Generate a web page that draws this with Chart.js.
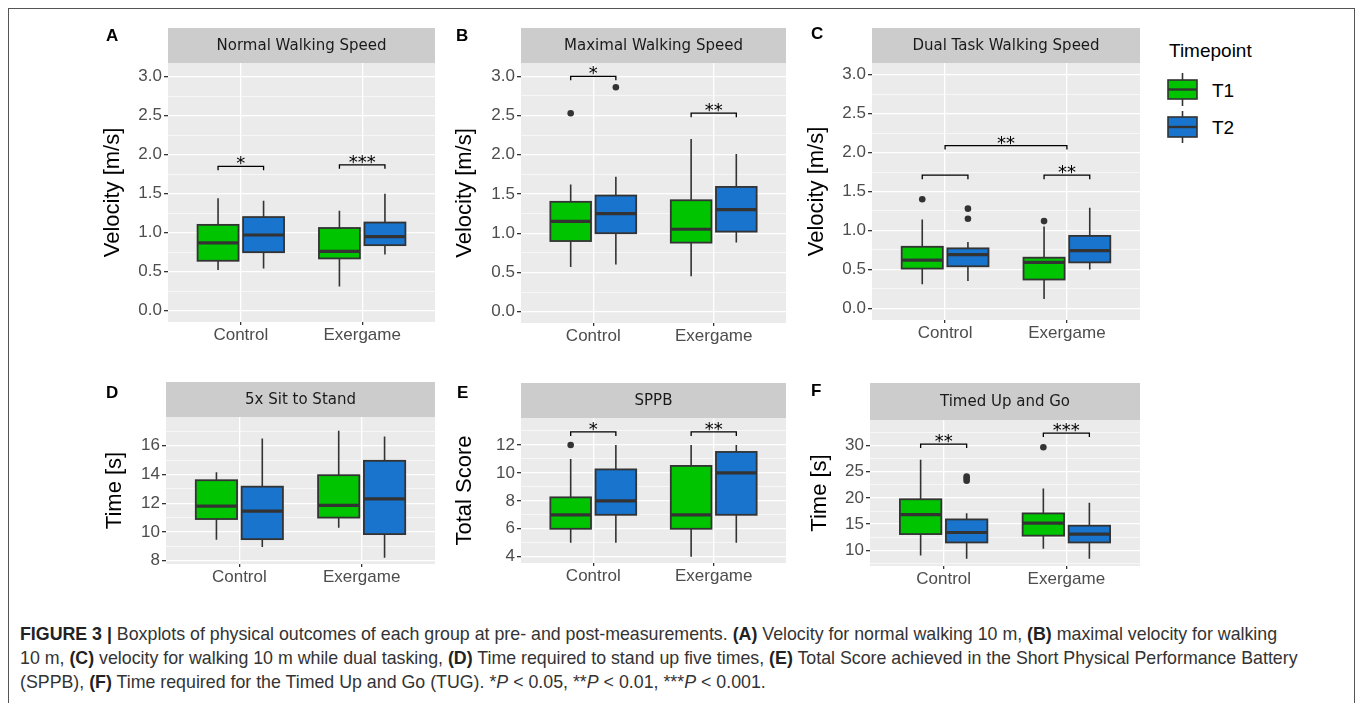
<!DOCTYPE html>
<html>
<head>
<meta charset="utf-8">
<title>Figure 3 - physical outcomes</title>
<script src="https://cdn.jsdelivr.net/npm/chart.js@4.4.1/dist/chart.umd.min.js"></script>
<style>
  html, body { margin: 0; padding: 0; background: #fff; }
  body { width: 1357px; height: 703px; position: relative; overflow: hidden; font-family: "Liberation Sans", Arial, sans-serif; }
  .frame { position: absolute; left: 8px; top: 8px; width: 1347px; height: 760px; border: 1px solid #555; box-sizing: border-box; }
  canvas.panel { position: absolute; }
  .tag { position: absolute; font: bold 17px "Liberation Sans", Arial, sans-serif; color: #000; line-height: 1; }
  #legend { position: absolute; left: 1160px; top: 36px; }
  #caption { position: absolute; left: 20px; top: 622px; font-size: 17.8px; line-height: 24px; color: #333; white-space: nowrap; }
  #caption b { color: #222; }
</style>
</head>
<body>
<div class="frame"></div>

<canvas id="panelA" class="panel"></canvas>
<canvas id="panelB" class="panel"></canvas>
<canvas id="panelC" class="panel"></canvas>
<canvas id="panelD" class="panel"></canvas>
<canvas id="panelE" class="panel"></canvas>
<canvas id="panelF" class="panel"></canvas>

<div class="tag" style="left:106px; top:27px;">A</div>
<div class="tag" style="left:456px; top:27px;">B</div>
<div class="tag" style="left:811px; top:25px;">C</div>
<div class="tag" style="left:106px; top:384px;">D</div>
<div class="tag" style="left:457px; top:384px;">E</div>
<div class="tag" style="left:811px; top:382px;">F</div>

<svg id="legend" width="110" height="120">
  <text x="9" y="21" font-family="Liberation Sans, Arial, sans-serif" font-size="19" fill="#000">Timepoint</text>
  <g stroke="#333" stroke-width="1.6">
    <line x1="22.5" y1="37" x2="22.5" y2="70"/>
    <rect x="8" y="44" width="29" height="19" fill="#00C400"/>
    <line x1="8" y1="53.5" x2="37" y2="53.5" stroke-width="2.4"/>
    <line x1="22.5" y1="75" x2="22.5" y2="107"/>
    <rect x="8" y="81" width="29" height="20" fill="#1874CD"/>
    <line x1="8" y1="91" x2="37" y2="91" stroke-width="2.4"/>
  </g>
  <text x="52" y="61" font-family="Liberation Sans, Arial, sans-serif" font-size="19" fill="#000">T1</text>
  <text x="52" y="98" font-family="Liberation Sans, Arial, sans-serif" font-size="19" fill="#000">T2</text>
</svg>

<div id="caption"><b>FIGURE 3 |</b> Boxplots of physical outcomes of each group at pre- and post-measurements. <b>(A)</b> Velocity for normal walking 10 m, <b>(B)</b> maximal velocity for walking<br>10 m, <b>(C)</b> velocity for walking 10 m while dual tasking, <b>(D)</b> Time required to stand up five times, <b>(E)</b> Total Score achieved in the Short Physical Performance Battery<br>(SPPB), <b>(F)</b> Time required for the Timed Up and Go (TUG). *<i>P</i> &lt; 0.05, **<i>P</i> &lt; 0.01, ***<i>P</i> &lt; 0.001.</div>

<script>
// ---- data ----
const groups = ['Control', 'Exergame'];
const timepoints = ['T1', 'T2'];

// each entry: [lower whisker, q1, median, q3, upper whisker], one per group
const normalT1 = [[0.52, 0.64, 0.87, 1.10, 1.44], [0.31, 0.67, 0.76, 1.06, 1.28]];
const normalT2 = [[0.54, 0.75, 0.97, 1.20, 1.41], [0.72, 0.84, 0.95, 1.13, 1.50]];
const normalOutT1 = [[], []];
const normalOutT2 = [[], []];
const normalSig = [['Control:T1', 'Control:T2', 1.85, '*'], ['Exergame:T1', 'Exergame:T2', 1.87, '***']];
const normalTicks = [0, 0.5, 1, 1.5, 2, 2.5, 3];

const maximalT1 = [[0.57, 0.90, 1.15, 1.40, 1.62], [0.45, 0.88, 1.05, 1.42, 2.20]];
const maximalT2 = [[0.60, 1.00, 1.25, 1.48, 1.72], [0.88, 1.02, 1.30, 1.59, 2.01]];
const maximalOutT1 = [[2.53], []];
const maximalOutT2 = [[2.86], []];
const maximalSig = [['Control:T1', 'Control:T2', 3.00, '*'], ['Exergame:T1', 'Exergame:T2', 2.53, '**']];
const maximalTicks = [0, 0.5, 1, 1.5, 2, 2.5, 3];

const dualT1 = [[0.31, 0.51, 0.62, 0.79, 1.14], [0.12, 0.37, 0.59, 0.65, 1.05]];
const dualT2 = [[0.35, 0.54, 0.69, 0.77, 0.85], [0.50, 0.59, 0.74, 0.93, 1.29]];
const dualOutT1 = [[1.40], [1.12]];
const dualOutT2 = [[1.15, 1.28], []];
const dualSig = [['Control:T1', 'Control:T2', 1.71, ''], ['Exergame:T1', 'Exergame:T2', 1.71, '**'], ['Control', 'Exergame', 2.09, '**']];
const dualTicks = [0, 0.5, 1, 1.5, 2, 2.5, 3];

const sitT1 = [[9.45, 10.9, 11.8, 13.6, 14.15], [10.3, 11.0, 11.85, 13.95, 17.05]];
const sitT2 = [[8.95, 9.5, 11.45, 13.15, 16.5], [8.2, 9.85, 12.3, 14.95, 16.65]];
const sitOutT1 = [[], []];
const sitOutT2 = [[], []];
const sitSig = [];
const sitTicks = [8, 10, 12, 14, 16];

const sppbT1 = [[5, 6, 7, 8.25, 11], [4, 6, 7, 10.5, 12]];
const sppbT2 = [[5, 7, 8, 10.25, 12], [5, 7, 10, 11.5, 12]];
const sppbOutT1 = [[12], []];
const sppbOutT2 = [[], []];
const sppbSig = [['Control:T1', 'Control:T2', 12.93, '*'], ['Exergame:T1', 'Exergame:T2', 12.93, '**']];
const sppbTicks = [4, 6, 8, 10, 12];

const tugT1 = [[9.0, 13.1, 16.8, 19.75, 27.3], [10.3, 12.8, 15.2, 17.05, 21.8]];
const tugT2 = [[8.4, 11.5, 13.4, 15.9, 17.1], [8.4, 11.5, 13.1, 14.7, 19.1]];
const tugOutT1 = [[], [29.7]];
const tugOutT2 = [[23.3, 23.7, 24.1], []];
const tugSig = [['Control:T1', 'Control:T2', 30.3, '**'], ['Exergame:T1', 'Exergame:T2', 32.4, '***']];
const tugTicks = [10, 15, 20, 25, 30];

// ---- styling ----
const FILL = ['#00C400', '#1874CD'];
const INK = '#333333';
const DODGE = 0.1875;      // half of the dodge width (0.75 / 4)
const BOX_W = 0.3375;      // box width in category units
const TICK_FONT = { family: '"Liberation Sans", Arial, sans-serif', size: 17 };
const TITLE_FONT = { family: '"Liberation Sans", Arial, sans-serif', size: 22 };

// panel placement on the page (page pixels)
const panels = [
  { id: 'panelA', strip: 'Normal Walking Speed', yTitle: 'Velocity [m/s]', t1: normalT1, t2: normalT2, o1: normalOutT1, o2: normalOutT2, sig: normalSig, ticks: normalTicks, min: -0.145, max: 3.175, decimals: 1,
    box: { left: 100, top: 20, width: 340, height: 330 }, area: { left: 168, right: 435, top: 63, bottom: 322 }, stripH: 35, titleX: 113 },
  { id: 'panelB', strip: 'Maximal Walking Speed', yTitle: 'Velocity [m/s]', t1: maximalT1, t2: maximalT2, o1: maximalOutT1, o2: maximalOutT2, sig: maximalSig, ticks: maximalTicks, min: -0.145, max: 3.17, decimals: 1,
    box: { left: 440, top: 20, width: 350, height: 330 }, area: { left: 521, right: 788, top: 63, bottom: 323 }, stripH: 35, titleX: 465 },
  { id: 'panelC', strip: 'Dual Task Walking Speed', yTitle: 'Velocity [m/s]', t1: dualT1, t2: dualT2, o1: dualOutT1, o2: dualOutT2, sig: dualSig, ticks: dualTicks, min: -0.15, max: 3.15, decimals: 1,
    box: { left: 780, top: 20, width: 370, height: 330 }, area: { left: 872, right: 1140, top: 63, bottom: 320 }, stripH: 35, titleX: 817 },
  { id: 'panelD', strip: '5x Sit to Stand', yTitle: 'Time [s]', t1: sitT1, t2: sitT2, o1: sitOutT1, o2: sitOutT2, sig: sitSig, ticks: sitTicks, min: 7.77, max: 18.0, decimals: 0,
    box: { left: 100, top: 370, width: 340, height: 230 }, area: { left: 166, right: 435, top: 417, bottom: 564 }, stripH: 35, titleX: 115 },
  { id: 'panelE', strip: 'SPPB', yTitle: 'Total Score', t1: sppbT1, t2: sppbT2, o1: sppbOutT1, o2: sppbOutT2, sig: sppbSig, ticks: sppbTicks, min: 3.55, max: 13.93, decimals: 0,
    box: { left: 440, top: 370, width: 350, height: 230 }, area: { left: 521, right: 788, top: 418, bottom: 563 }, stripH: 35, titleX: 465 },
  { id: 'panelF', strip: 'Timed Up and Go', yTitle: 'Time [s]', t1: tugT1, t2: tugT2, o1: tugOutT1, o2: tugOutT2, sig: tugSig, ticks: tugTicks, min: 7.0, max: 34.9, decimals: 0,
    box: { left: 780, top: 370, width: 370, height: 230 }, area: { left: 870, right: 1140, top: 420, bottom: 566 }, stripH: 37, titleX: 820 }
];

// x position (category units) of a box: group g, timepoint s
function boxCenter(g, s) {
  return g + 1 + (s === 0 ? -DODGE : DODGE);
}

// 'Control:T1' -> box center, 'Control' -> group center
function keyToX(key) {
  const parts = key.split(':');
  const g = groups.indexOf(parts[0]);
  if (parts.length === 1) return g + 1;
  return boxCenter(g, timepoints.indexOf(parts[1]));
}

function isMajor(value, major) {
  return major.some(m => Math.abs(m - value) < 1e-9);
}

// major ticks plus ggplot-style minor breaks halfway between them
function buildTicks(major, min, max) {
  const step = major[1] - major[0];
  const values = major.slice();
  for (let i = -1; i < major.length; i++) {
    const v = i < 0 ? major[0] - step / 2 : major[i] + step / 2;
    if (v > min && v < max) values.push(v);
  }
  return values.sort((a, b) => a - b).map(v => ({ value: v }));
}

function makeBoxPlugin(p) {
  return {
    id: 'boxes-' + p.id,
    beforeDraw(chart) {
      const { ctx, chartArea: a } = chart;
      ctx.save();
      ctx.fillStyle = '#EBEBEB';
      ctx.fillRect(a.left, a.top, a.right - a.left, a.bottom - a.top);
      // facet strip
      ctx.fillStyle = '#CCCCCC';
      ctx.fillRect(a.left, a.top - p.stripH, a.right - a.left, p.stripH);
      ctx.fillStyle = '#1A1A1A';
      ctx.font = '15px "DejaVu Sans", sans-serif';
      ctx.textAlign = 'center';
      ctx.textBaseline = 'middle';
      ctx.fillText(p.strip, (a.left + a.right) / 2, a.top - p.stripH / 2 + 1);
      ctx.restore();
    },
    beforeDatasetsDraw(chart) {
      const { ctx } = chart;
      const xs = chart.scales.x, ys = chart.scales.y;
      ctx.save();
      [p.t1, p.t2].forEach((series, s) => {
        series.forEach((st, g) => {
          const c = boxCenter(g, s);
          const xc = xs.getPixelForValue(c);
          const xl = xs.getPixelForValue(c - BOX_W / 2);
          const xr = xs.getPixelForValue(c + BOX_W / 2);
          const [lo, q1, med, q3, hi] = st.map(v => ys.getPixelForValue(v));
          ctx.strokeStyle = INK;
          ctx.lineWidth = 1.6;
          ctx.beginPath();
          ctx.moveTo(xc, lo); ctx.lineTo(xc, q1);
          ctx.moveTo(xc, q3); ctx.lineTo(xc, hi);
          ctx.stroke();
          ctx.fillStyle = FILL[s];
          ctx.fillRect(xl, q3, xr - xl, q1 - q3);
          ctx.lineWidth = 1.8;
          ctx.strokeRect(xl, q3, xr - xl, q1 - q3);
          ctx.lineWidth = 3.2;
          ctx.beginPath();
          ctx.moveTo(xl, med); ctx.lineTo(xr, med);
          ctx.stroke();
        });
      });
      ctx.restore();
    },
    afterDatasetsDraw(chart) {
      const { ctx } = chart;
      const xs = chart.scales.x, ys = chart.scales.y;
      ctx.save();
      ctx.strokeStyle = '#000';
      ctx.fillStyle = '#000';
      ctx.lineWidth = 1.3;
      ctx.font = '18px "DejaVu Sans", sans-serif';
      ctx.textAlign = 'center';
      ctx.textBaseline = 'alphabetic';
      p.sig.forEach(([from, to, y, label]) => {
        const x1 = xs.getPixelForValue(keyToX(from));
        const x2 = xs.getPixelForValue(keyToX(to));
        const py = ys.getPixelForValue(y);
        ctx.beginPath();
        ctx.moveTo(x1, py + 4); ctx.lineTo(x1, py);
        ctx.lineTo(x2, py); ctx.lineTo(x2, py + 4);
        ctx.stroke();
        if (label) ctx.fillText(label, (x1 + x2) / 2, py + 3);
      });
      ctx.restore();
    }
  };
}

function buildPanel(p) {
  const canvas = document.getElementById(p.id);
  canvas.width = p.box.width;
  canvas.height = p.box.height;
  canvas.style.left = p.box.left + 'px';
  canvas.style.top = p.box.top + 'px';

  const titleLine = TITLE_FONT.size * 1.2;
  const padLeft = Math.max(0, p.titleX - p.box.left - titleLine / 2);
  const yWidth = p.area.left - p.box.left - padLeft;
  const xHeight = p.box.top + p.box.height - p.area.bottom;

  const datasets = timepoints.map((tp, s) => {
    const out = s === 0 ? p.o1 : p.o2;
    const pts = [];
    out.forEach((vals, g) => vals.forEach(v => pts.push({ x: boxCenter(g, s), y: v })));
    return {
      label: tp,
      data: pts,
      pointRadius: 3.3,
      pointBackgroundColor: INK,
      pointBorderWidth: 0
    };
  });

  return new Chart(canvas.getContext('2d'), {
    type: 'scatter',
    data: { datasets: datasets },
    options: {
      responsive: false,
      animation: false,
      devicePixelRatio: 1,
      layout: {
        padding: { top: p.area.top - p.box.top, right: p.box.left + p.box.width - p.area.right, bottom: 0, left: padLeft }
      },
      plugins: {
        legend: { display: false },
        tooltip: { enabled: false }
      },
      scales: {
        x: {
          type: 'linear',
          min: 0.4,
          max: 2.6,
          afterBuildTicks: s => { s.ticks = [{ value: 1 }, { value: 2 }]; },
          afterFit: s => { s.height = xHeight; },
          ticks: {
            autoSkip: false,
            maxRotation: 0,
            padding: 0,
            color: '#4D4D4D',
            font: TICK_FONT,
            callback: v => groups[Math.round(v) - 1]
          },
          grid: { color: '#FFFFFF', lineWidth: 1.3, tickColor: INK, tickLength: 3 },
          border: { display: false }
        },
        y: {
          type: 'linear',
          min: p.min,
          max: p.max,
          afterBuildTicks: s => { s.ticks = buildTicks(p.ticks, p.min, p.max); },
          afterFit: s => { s.width = yWidth; },
          ticks: {
            autoSkip: false,
            padding: 2,
            color: '#4D4D4D',
            font: TICK_FONT,
            callback: v => isMajor(v, p.ticks) ? v.toFixed(p.decimals) : ''
          },
          grid: {
            color: '#FFFFFF',
            lineWidth: c => (c.tick && isMajor(c.tick.value, p.ticks)) ? 1.3 : 0.6,
            tickColor: c => (c.tick && isMajor(c.tick.value, p.ticks)) ? INK : 'rgba(0,0,0,0)',
            tickLength: 4
          },
          border: { display: false },
          title: { display: true, text: p.yTitle, color: '#000', font: TITLE_FONT, padding: 0 }
        }
      }
    },
    plugins: [makeBoxPlugin(p)]
  });
}

panels.forEach(buildPanel);
</script>
</body>
</html>
